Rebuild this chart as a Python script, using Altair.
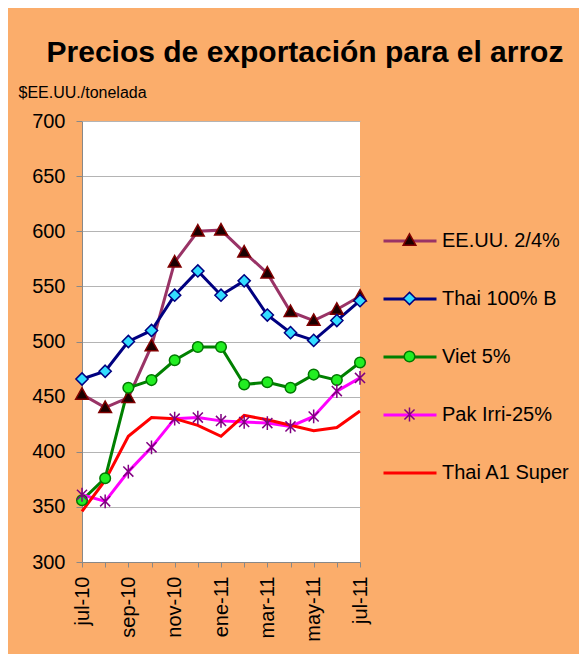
import altair as alt
import pandas as pd

months = ["jul-10", "ago-10", "sep-10", "oct-10", "nov-10", "dic-10", "ene-11",
          "feb-11", "mar-11", "abr-11", "may-11", "jun-11", "jul-11"]
series = ["EE.UU. 2/4%", "Thai 100% B", "Viet 5%", "Pak Irri-25%", "Thai A1 Super"]

eeuu = [452, 440, 449, 496, 572, 600, 601, 581, 562, 527, 519, 529, 541]
thai100 = [466, 473, 500, 510, 542, 564, 542, 555, 524, 508, 501, 519, 537]
viet = [356, 376, 458, 465, 483, 495, 495, 461, 463, 458, 470, 465, 481]
pak = [361, 355, 382, 404, 430, 431, 428, 427, 426, 423, 432, 455, 467]
thaia1 = [346, 374, 414, 431, 430, 424, 414, 433, 429, 424, 419, 422, 437]

values = [eeuu, thai100, viet, pak, thaia1]

line_colors = ["#993366", "#000080", "#008000", "#FF00FF", "#FF0000"]
marker_fills = ["#1a0000", "#33DDFF", "#22EE22", "transparent", "transparent"]
marker_strokes = ["#800000", "#000080", "#007700", "#800080", "transparent"]
marker_paths = [
    "M0,-0.25L0.24,0.18L-0.24,0.18Z",
    "M0,-0.23L0.23,0L0,0.23L-0.23,0Z",
    "M-0.2,0A0.2,0.2,0,1,0,0.2,0A0.2,0.2,0,1,0,-0.2,0Z",
    "M-0.19,-0.19L0.19,0.19M-0.19,0.19L0.19,-0.19M0,-0.26V0.26",
    "M0,0",
]

# marker keys differ from the series names so that the marker legend
# is kept separate from the line legend (its labels are hidden)
marker_keys = [s + " " for s in series]

rows = []
for s, mk, vals in zip(series, marker_keys, values):
    for i, v in enumerate(vals):
        rows.append({"serie": s, "marcador": mk, "idx": i, "mes": months[i], "precio": v})
df = pd.DataFrame(rows)

label_expr = "[" + ",".join("'" + (m if i % 2 == 0 else "") + "'" for i, m in enumerate(months)) + "][datum.value]"

FONT = "Liberation Sans"
SYM = 2809

x = alt.X("idx:Q",
          scale=alt.Scale(domain=[0, len(months) - 1], nice=False, zero=False),
          axis=alt.Axis(values=list(range(len(months))), labelExpr=label_expr,
                        labelAngle=270, labelFontSize=20, labelFont=FONT,
                        labelColor="black", labelPadding=9, tickSize=5,
                        tickColor="#888888", domainColor="#888888", grid=False,
                        title=None, labelOverlap=False))
y = alt.Y("precio:Q",
          scale=alt.Scale(domain=[300, 700], nice=False, zero=False),
          axis=alt.Axis(values=list(range(300, 701, 50)), labelFontSize=20,
                        labelFont=FONT, labelColor="black", labelPadding=11,
                        tickSize=6, tickColor="#888888", domainColor="#888888",
                        gridColor="#b4b4b4", title="$EE.UU./tonelada",
                        titleAngle=0, titleAlign="left", titleBaseline="alphabetic",
                        titleX=-64, titleY=-24, titleFontSize=16,
                        titleFontWeight="normal", titleFont=FONT,
                        titleColor="black"))

legend_common = dict(orient="none", legendX=300, legendY=92, title=None,
                     labelFontSize=20, labelFont=FONT, labelColor="black",
                     symbolSize=SYM, labelOffset=4, rowPadding=20, padding=0)

lines = alt.Chart(df).mark_line(strokeWidth=3).encode(
    x=x, y=y,
    color=alt.Color("serie:N",
                    scale=alt.Scale(domain=series, range=line_colors),
                    sort=series,
                    legend=alt.Legend(symbolType="stroke", symbolStrokeWidth=3,
                                      **legend_common)),
    order=alt.Order("idx:Q"),
)

mk_legend = alt.Legend(symbolStrokeWidth=1.5, labelOpacity=0, **legend_common)
points = alt.Chart(df).mark_point(filled=True, size=SYM, strokeWidth=1.5, opacity=1).encode(
    x=x, y=y,
    shape=alt.Shape("marcador:N", scale=alt.Scale(domain=marker_keys, range=marker_paths),
                    legend=mk_legend),
    fill=alt.Fill("marcador:N", scale=alt.Scale(domain=marker_keys, range=marker_fills),
                  legend=mk_legend),
    stroke=alt.Stroke("marcador:N", scale=alt.Scale(domain=marker_keys, range=marker_strokes),
                      legend=mk_legend),
)

chart = alt.layer(lines, points).properties(
    width=278, height=441,
    autosize=alt.AutoSizeParams(type="none"),
    padding={"left": 74, "top": 113, "right": 219, "bottom": 92},
    background="#FBAD6B",
    title=alt.TitleParams("Precios de exportación para el arroz", fontSize=30,
                          font=FONT, fontWeight="bold", color="black",
                          anchor="middle", frame="group", dx=84, dy=-12),
).configure_view(fill="white", stroke=None)

chart.save("out.html", embed_options={"renderer": "svg", "actions": False})
